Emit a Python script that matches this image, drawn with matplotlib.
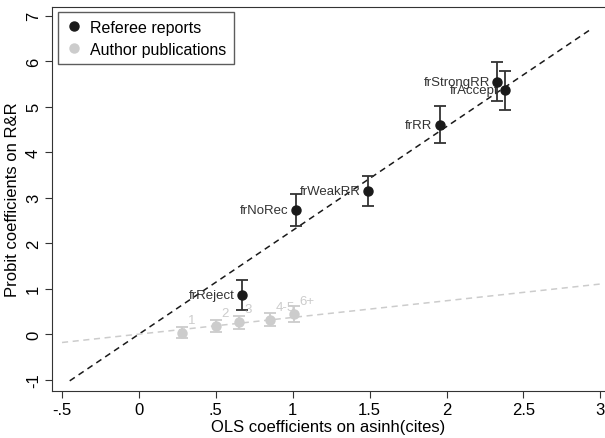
import matplotlib.pyplot as plt
import numpy as np

plt.rcParams["font.family"] = ["Liberation Sans", "DejaVu Sans"]

# referee report coefficients
ref_labels = ["frReject", "frNoRec", "frWeakRR", "frRR", "frStrongRR", "frAccept"]
ref_x = [0.67, 1.02, 1.49, 1.955, 2.33, 2.38]
ref_y = [0.86, 2.73, 3.14, 4.60, 5.55, 5.36]
ref_lo = [0.53, 2.38, 2.81, 4.19, 5.12, 4.93]
ref_hi = [1.19, 3.07, 3.48, 5.02, 5.98, 5.78]

# author publication coefficients
pub_labels = ["1", "2", "3", "4-5", "6+"]
pub_x = [0.28, 0.50, 0.65, 0.85, 1.01]
pub_y = [0.03, 0.17, 0.26, 0.32, 0.44]
pub_lo = [-0.09, 0.05, 0.12, 0.17, 0.27]
pub_hi = [0.15, 0.30, 0.40, 0.47, 0.61]

# fitted slopes (lines through origin)
ref_slope = 2.28
pub_slope = 0.367

xticks = [-0.5, 0, 0.5, 1, 1.5, 2, 2.5, 3]
xticklabels = ["-.5", "0", ".5", "1", "1.5", "2", "2.5", "3"]
yticks = [-1, 0, 1, 2, 3, 4, 5, 6, 7]

dark = "#1a1a1a"
light = "#cccccc"

fig = plt.figure(figsize=(6.05, 4.39), dpi=100)
ax = fig.add_axes([0.086, 0.107, 0.914, 0.875])

## --fit lines
xs = np.array([-0.45, 2.94])
ax.plot(xs, ref_slope * xs, ls=(0, (4, 3)), color=dark, lw=1.1)
xs2 = np.array([-0.5, 3.0])
ax.plot(xs2, pub_slope * xs2, ls=(0, (4, 3)), color=light, lw=1.1)

## --error bars and points
ry = np.array(ref_y)
ax.errorbar(ref_x, ref_y, yerr=[ry - ref_lo, np.array(ref_hi) - ry], fmt="none",
            ecolor="#333333", elinewidth=1.3, capsize=4, capthick=1.3)
py = np.array(pub_y)
ax.errorbar(pub_x, pub_y, yerr=[py - pub_lo, np.array(pub_hi) - py], fmt="none",
            ecolor=light, elinewidth=1.3, capsize=4, capthick=1.3)
ax.plot(ref_x, ref_y, "o", color=dark, ms=6.5, label="Referee reports", zorder=5)
ax.plot(pub_x, pub_y, "o", color=light, ms=6.5, label="Author publications", zorder=5)

for lab, x, y in zip(ref_labels, ref_x, ref_y):
    ax.annotate(lab, (x, y), xytext=(-5, 0), textcoords="offset points",
                ha="right", va="center", fontsize=9.5, color="#333333")
for lab, x, y in zip(pub_labels, pub_x, pub_y):
    ax.annotate(lab, (x, y), xytext=(4, 5), textcoords="offset points",
                ha="left", va="bottom", fontsize=9.5, color=light)

ax.set_xlim(-0.565, 3.03)
ax.set_ylim(-1.25, 7.19)
ax.set_xticks(xticks)
ax.set_xticklabels(xticklabels, fontsize=12)
ax.set_yticks(yticks)
ax.set_yticklabels([str(t) for t in yticks], fontsize=12, rotation=90, va="center")
ax.tick_params(direction="out", length=5, color="#333333", pad=3)
ax.spines["right"].set_visible(False)
for s in ["left", "bottom", "top"]:
    ax.spines[s].set_color("#333333")

ax.set_xlabel("OLS coefficients on asinh(cites)", fontsize=12, labelpad=1)
ax.set_ylabel("Probit coefficients on R&R", fontsize=12, labelpad=4)

ax.legend(loc="upper left", fontsize=11.5, frameon=True, fancybox=False,
          edgecolor="#333333", handletextpad=0.4, handlelength=1.2,
          borderaxespad=0.35, labelspacing=0.45, borderpad=0.45)

plt.savefig("out.png", dpi=100)
